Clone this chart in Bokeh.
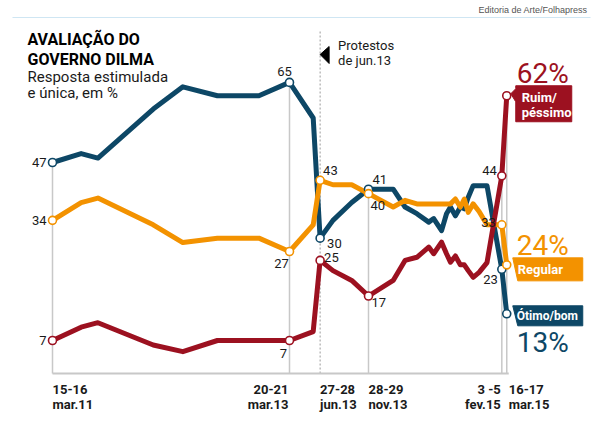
from bokeh.plotting import figure
from bokeh.models import ColumnDataSource, Label, Range1d
from bokeh.embed import file_html
from bokeh.resources import INLINE

# ---------------- data ----------------
# survey positions (months since 15-16 mar.2011)
meses = [0, 2.9, 4.6, 10.2, 13.2, 16.7, 20.9, 24.0, 26.4, 27.1, 28.4, 30.3, 32.0,
         34.5, 35.7, 36.9, 38.1, 38.6, 39.4, 39.9, 40.3, 40.8, 41.3, 41.7, 42.1,
         42.6, 43.2, 44.0, 45.5, 46.0]
otimo_bom = [47, 49, 48, 59, 64, 62, 62, 65, 57, 30, 34, 38, 41,
             41, 37, 35.5, 33.6, 34.4, 31.7, 35.5, 37, 35, 37, 36.6, 39.2,
             41.8, 41.8, 41.8, 23, 13]
regular = [34, 38, 39, 33, 29, 30, 30, 27, 33, 43, 42, 42, 40,
           37, 38.5, 37.7, 37.7, 37.7, 37.7, 37.7, 37.7, 38.8, 37, 38.8, 35.8,
           37.7, 36, 33, 33, 24]
ruim_pessimo = [7, 10, 11, 6, 4.5, 7, 7, 7, 9, 25, 22.7, 20.5, 17,
                20.5, 25, 25.7, 28, 26.5, 29.1, 26.5, 24.6, 26, 24, 24, 22.7,
                21.2, 22.3, 24.5, 44, 62]
marcos = [0, 7, 9, 12, 28, 29]          # surveys with labelled dates
marco_l1 = ["15-16", "20-21", "27-28", "28-29", "3 -5", "16-17"]
marco_l2 = ["mar.11", "mar.13", "jun.13", "nov.13", "fev.15", "mar.15"]
protesto_idx = 9

AZUL = "#0d4766"
LARANJA = "#f39200"
VERMELHO = "#9c1120"
CINZA = "#c8c8c8"
TXT = "#1a1a1a"
FONT = "Roboto"

PXX = 9.875   # px per month
PXY = 4.45    # px per point
W, H = 592, 435
x0 = -52 / PXX
ytop = 371.15 / PXY

p = figure(width=W, height=H, output_backend="svg", toolbar_location=None,
           x_range=Range1d(x0, x0 + W / PXX), y_range=Range1d(ytop - H / PXY, ytop),
           x_axis_location=None, y_axis_location=None, min_border=0,
           outline_line_color=None, background_fill_color="white")
p.grid.visible = False

def ox(px):
    return px / PXX

def oy(px):          # px downward on page -> data units
    return -px / PXY

def pgx(px):         # page coordinate -> data
    return x0 + px / PXX

def pgy(py):
    return (371.15 - py) / PXY

base = pgy(373)

# vertical guide lines
xs_v, y1_v = [], []
for i in marcos:
    if i == protesto_idx:
        continue
    xs_v.append(meses[i])
    y1_v.append(max(otimo_bom[i], regular[i], ruim_pessimo[i]))
p.segment(x0=xs_v, y0=[base] * len(xs_v), x1=xs_v, y1=y1_v, line_color=CINZA, line_width=1.5)
p.segment(x0=[meses[protesto_idx]], y0=[base], x1=[meses[protesto_idx]], y1=[pgy(30)],
          line_color="#9a9a9a", line_width=1, line_dash="2 2")
# baseline
p.segment(x0=[meses[0]], y0=[base], x1=[meses[-1] + ox(2)], y1=[base], line_color=CINZA, line_width=2)

src = ColumnDataSource(dict(x=meses, ob=otimo_bom, rg=regular, rp=ruim_pessimo))
for col, c in (("ob", AZUL), ("rg", LARANJA), ("rp", VERMELHO)):
    p.line("x", col, source=src, line_color=c, line_width=5, line_join="round", line_cap="round")

for serie, c in ((otimo_bom, AZUL), (regular, LARANJA), (ruim_pessimo, VERMELHO)):
    p.scatter([meses[i] for i in marcos], [serie[i] for i in marcos], size=8,
              fill_color="white", line_color=c, line_width=1.6)

def lab(x, y, text, size=13, color=TXT, align="left", baseline="middle", style="normal", font=FONT):
    p.add_layout(Label(x=x, y=y, text=text, text_font=font, text_font_size=f"{size}px",
                       text_color=color, text_align=align, text_baseline=baseline,
                       text_font_style=style))

# value labels (offsets in page px)
specs = [
    (otimo_bom, 0, -6, 0, "right", "middle"),
    (regular, 0, -6, 0, "right", "middle"),
    (ruim_pessimo, 0, -6, 0, "right", "middle"),
    (otimo_bom, 7, -5, -6, "center", "bottom"),
    (regular, 7, -8, 7, "center", "top"),
    (ruim_pessimo, 7, -6, 8, "center", "top"),
    (otimo_bom, 9, 7, 5, "left", "middle"),
    (regular, 9, 3, -5, "left", "bottom"),
    (ruim_pessimo, 9, 4, -3, "left", "middle"),
    (otimo_bom, 12, 4, -5, "left", "bottom"),
    (regular, 12, 2, 7, "left", "top"),
    (ruim_pessimo, 12, 3, 2, "left", "top"),
    (ruim_pessimo, 28, -5, -1, "right", "bottom"),
    (regular, 28, -6, -2, "right", "middle"),
    (otimo_bom, 28, -4, 6, "right", "top"),
]
for serie, i, dx, dy, al, bl in specs:
    lab(meses[i] + ox(dx), serie[i] + oy(dy), f"{serie[i]:.0f}", size=13, align=al, baseline=bl)

# date labels
for i, l1, l2 in zip(marcos, marco_l1, marco_l2):
    right = i in (7, 28)
    dx = -1 if right else (2 if i == 29 else 0)
    al = "right" if right else "left"
    lab(meses[i] + ox(dx), pgy(388.5), l1, size=13, align=al, style="bold")
    lab(meses[i] + ox(dx), pgy(403.5), l2, size=13, align=al, style="bold")

# protest annotation
xp = meses[protesto_idx]
p.patch([xp, xp + ox(9), xp + ox(9)], [pgy(54), pgy(46), pgy(63)], fill_color="black", line_color="black")
lab(xp + ox(18), pgy(44.5), "Protestos", size=13)
lab(xp + ox(18), pgy(59.5), "de jun.13", size=13)

# end labels
xe = meses[-1]
def caixa(yv, top, bot, left, right, c, notch):
    if notch:
        xs = [xe + ox(left), xe + ox(right), xe + ox(right), xe + ox(left), xe + ox(left), xe + ox(left - 5), xe + ox(left)]
        ys = [yv + oy(top), yv + oy(top), yv + oy(bot), yv + oy(bot), yv + oy(top + 16), yv + oy(top + 8), yv + oy(top + 3)]
    else:
        xs = [xe + ox(left), xe + ox(right), xe + ox(right), xe + ox(left + 5)]
        ys = [yv + oy(top), yv + oy(top), yv + oy(bot), yv + oy(bot)]
    p.patch(xs, ys, fill_color=c, line_color=c)

rp, rg, ob = ruim_pessimo[-1], regular[-1], otimo_bom[-1]
caixa(rp, -10, 26, 9, 65, VERMELHO, True)
lab(xe + ox(15), rp + oy(1.5), "Ruim/", size=13, color="white", style="bold")
lab(xe + ox(15), rp + oy(16.5), "péssimo", size=13, color="white", style="bold")
lab(xe + ox(10), rp + oy(-22), f"{rp:.0f}%", size=28, color=VERMELHO)

caixa(rg, -7, 16, 6, 76, LARANJA, False)
lab(xe + ox(11), rg + oy(5), "Regular", size=13, color="white", style="bold")
lab(xe + ox(10), rg + oy(-19), f"{rg:.0f}%", size=28, color=LARANJA)

caixa(ob, -8, 12, 6, 76, AZUL, False)
lab(xe + ox(10), ob + oy(2.5), "Ótimo/bom", size=12, color="white", style="bold")
lab(xe + ox(10), ob + oy(29), f"{ob:.0f}%", size=28, color=AZUL)

# header
p.segment(x0=[pgx(12)], y0=[pgy(17)], x1=[pgx(590)], y1=[pgy(17)], line_color="#cfe6f3", line_width=1.2)
lab(pgx(587), pgy(9.5), "Editoria de Arte/Folhapress", size=9, color="#555555", align="right",
    font="Liberation Sans")
lab(pgx(27), pgy(38.5), "AVALIAÇÃO DO", size=16, style="bold", color="black")
lab(pgx(27), pgy(58.5), "GOVERNO DILMA", size=16, style="bold", color="black")
lab(pgx(27), pgy(76.5), "Resposta estimulada", size=15)
lab(pgx(27), pgy(92.5), "e única, em %", size=15)

open("out.html", "w").write(file_html(p, INLINE))
